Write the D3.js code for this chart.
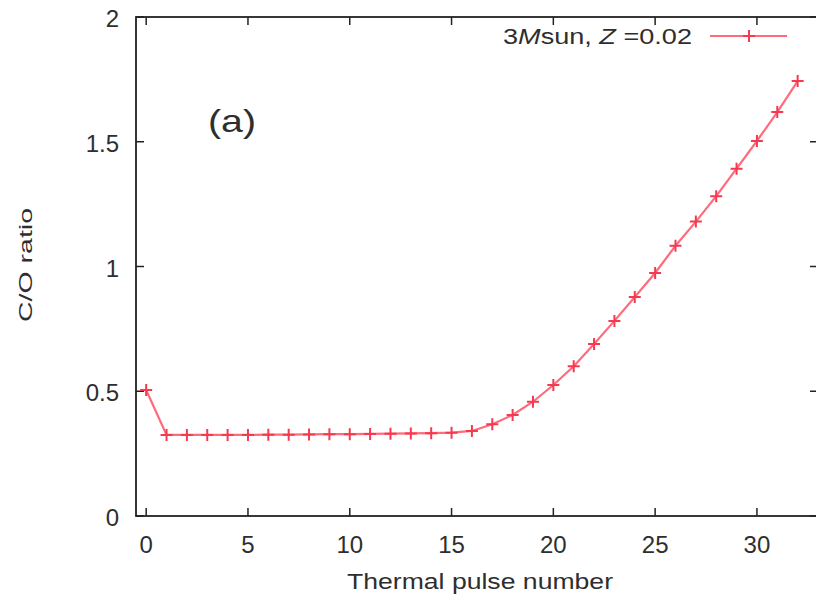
<!DOCTYPE html>
<html>
<head>
<meta charset="utf-8">
<script src="https://cdn.jsdelivr.net/npm/d3@7"></script>
<style>
body { margin: 0; background: #fff; }
text { font-family: "Liberation Sans", Arial, sans-serif; fill: #2e2e2e; }
</style>
</head>
<body>
<svg id="chart" width="816" height="600"></svg>
<script>
// data
var pulses = d3.range(0, 33);
var coRatio = [0.505, 0.325, 0.325, 0.325, 0.325, 0.325, 0.326, 0.326, 0.327, 0.328, 0.328,
	0.329, 0.330, 0.331, 0.332, 0.334, 0.341, 0.368, 0.405, 0.458, 0.525, 0.600,
	0.689, 0.782, 0.878, 0.974, 1.083, 1.180, 1.282, 1.392, 1.503, 1.619, 1.743];
var xTicks = [0, 5, 10, 15, 20, 25, 30];
var yTicks = [0, 0.5, 1, 1.5, 2];

var plotLeft = 136, plotRight = 818, plotTop = 17, plotBottom = 516;
var tickLen = 8;
var lineColor = "#ff6b7a";
var markColor = "#f5394f";

var svg = d3.select("#chart");

var x = d3.scaleLinear().domain([-0.5, 33]).range([plotLeft, plotRight]);
var y = d3.scaleLinear().domain([0, 2]).range([plotBottom, plotTop]);

// frame
svg.append("rect")
	.attr("x", plotLeft)
	.attr("y", plotTop)
	.attr("width", plotRight - plotLeft)
	.attr("height", plotBottom - plotTop)
	.style("fill", "none")
	.style("stroke", "#222")
	.style("stroke-width", 1.8);

// ticks, inward on all four sides
var tickG = svg.append("g").style("stroke", "#222").style("stroke-width", 1.5);
xTicks.forEach(function(t) {
	tickG.append("line").attr("x1", x(t)).attr("x2", x(t)).attr("y1", plotBottom).attr("y2", plotBottom - tickLen);
	tickG.append("line").attr("x1", x(t)).attr("x2", x(t)).attr("y1", plotTop).attr("y2", plotTop + tickLen);
});
yTicks.forEach(function(t) {
	tickG.append("line").attr("x1", plotLeft).attr("x2", plotLeft + tickLen).attr("y1", y(t)).attr("y2", y(t));
	tickG.append("line").attr("x1", plotRight).attr("x2", plotRight - tickLen).attr("y1", y(t)).attr("y2", y(t));
});

// tick labels
svg.selectAll(".xLabel")
	.data(xTicks)
	.enter()
	.append("text")
	.attr("class", "xLabel")
	.attr("x", function(d) { return x(d); })
	.attr("y", 553)
	.style("text-anchor", "middle")
	.style("font-size", "24px")
	.text(function(d) { return d; });

svg.selectAll(".yLabel")
	.data(yTicks)
	.enter()
	.append("text")
	.attr("class", "yLabel")
	.attr("x", 119)
	.attr("y", function(d) { return y(d) + 10; })
	.style("text-anchor", "end")
	.style("font-size", "24px")
	.text(function(d) { return d; });

// axis titles
svg.append("text")
	.attr("x", 480)
	.attr("y", 589)
	.style("text-anchor", "middle")
	.style("font-size", "22px")
	.attr("textLength", 266)
	.attr("lengthAdjust", "spacingAndGlyphs")
	.text("Thermal pulse number");

svg.append("text")
	.attr("transform", "translate(32,265) rotate(-90)")
	.style("text-anchor", "middle")
	.style("font-size", "19px")
	.attr("textLength", 114)
	.attr("lengthAdjust", "spacingAndGlyphs")
	.text("C/O ratio");

// panel label
svg.append("text")
	.attr("x", 208)
	.attr("y", 132)
	.style("font-size", "32px")
	.attr("textLength", 48)
	.attr("lengthAdjust", "spacingAndGlyphs")
	.text("(a)");

// series line
var line = d3.line()
	.x(function(d, i) { return x(pulses[i]); })
	.y(function(d) { return y(d); });

svg.append("path")
	.datum(coRatio)
	.attr("d", line)
	.style("fill", "none")
	.style("stroke", lineColor)
	.style("stroke-width", 2.2);

var plus = "M-6,0H6M0,-6V6";
svg.selectAll(".mark")
	.data(coRatio)
	.enter()
	.append("path")
	.attr("class", "mark")
	.attr("transform", function(d, i) { return "translate(" + x(pulses[i]) + "," + y(d) + ")"; })
	.attr("d", plus)
	.style("stroke", markColor)
	.style("stroke-width", 2);

// legend
var legend = svg.append("g").attr("class", "legend");
var lt = legend.append("text")
	.attr("x", 503)
	.attr("y", 44)
	.style("font-size", "22px")
	.attr("textLength", 189)
	.attr("lengthAdjust", "spacingAndGlyphs");
lt.append("tspan").text("3");
lt.append("tspan").style("font-style", "italic").text("M");
lt.append("tspan").text("sun, ");
lt.append("tspan").style("font-style", "italic").text("Z");
lt.append("tspan").text(" =0.02");

legend.append("line")
	.attr("x1", 710)
	.attr("x2", 787)
	.attr("y1", 36)
	.attr("y2", 36)
	.style("stroke", lineColor)
	.style("stroke-width", 2.2);
legend.append("path")
	.attr("transform", "translate(749,36)")
	.attr("d", plus)
	.style("stroke", markColor)
	.style("stroke-width", 2);
</script>
</body>
</html>
